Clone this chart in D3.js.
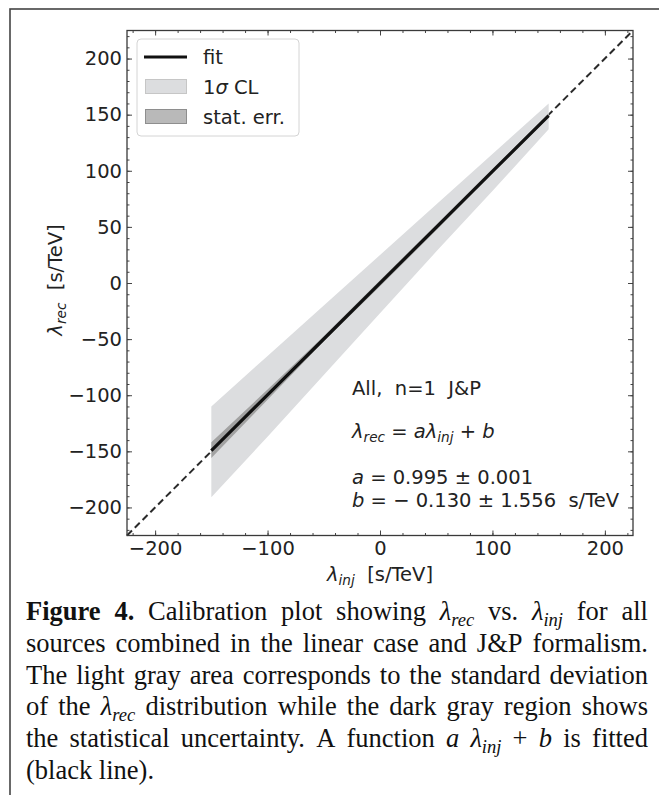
<!DOCTYPE html>
<html>
<head>
<meta charset="utf-8">
<script src="https://cdn.jsdelivr.net/npm/d3@7"></script>
<style>
  body { margin: 0; background: #fff; }
  svg { display: block; }
  text { white-space: pre; }
</style>
</head>
<body>
<svg id="chart" width="659" height="795"></svg>
<script>
// values
const bandX = [-150, -100, -50, 0, 50, 100, 150];
const fitY = [-149.4, -99.6, -49.9, -0.1, 49.6, 99.4, 149.1];
const clUpper = [-110, -65, -20, 25, 70, 115, 160];
const clLower = [-191, -137, -82, -27, 28, 82, 137];
const statUpper = [-142, -95, -47.5, 2.5, 52, 101.5, 151];
const statLower = [-156, -104, -52, -3, 47, 97.5, 147.5];
const diagonal = [-225, 225];
const xTicks = [-200, -100, 0, 100, 200];
const yTicks = [-200, -150, -100, -50, 0, 50, 100, 150, 200];

const svg = d3.select("#chart");
const sans = "DejaVu Sans";
const serif = "Liberation Serif";
const fs = 19.5;

// outer frame
svg.append("rect")
  .attr("x", 10).attr("y", 9)
  .attr("width", 700).attr("height", 820)
  .attr("fill", "none").attr("stroke", "#444").attr("stroke-width", 1.6);

const pLeft = 127, pRight = 633, pTop = 30.5, pBottom = 535.5;
const x = d3.scaleLinear().domain([-225, 225]).range([pLeft, pRight]);
const y = d3.scaleLinear().domain([-225, 225]).range([pBottom, pTop]);

const g = svg.append("g");

// dashed identity line
g.append("line")
  .attr("x1", x(diagonal[0])).attr("y1", y(diagonal[0]))
  .attr("x2", x(diagonal[1])).attr("y2", y(diagonal[1]))
  .attr("stroke", "#2a2a2a").attr("stroke-width", 2)
  .attr("stroke-dasharray", "7,4");

const pts = bandX.map((v, i) => ({
  x: v, fit: fitY[i], clU: clUpper[i], clL: clLower[i], sU: statUpper[i], sL: statLower[i]
}));

const area = (lo, hi) => d3.area()
  .x(d => x(d.x)).y0(d => y(d[lo])).y1(d => y(d[hi]));

g.append("path").attr("d", area("clL", "clU")(pts))
  .attr("fill", "#dcdddf");
g.append("path").attr("d", area("sL", "sU")(pts))
  .attr("fill", "#a2a2a2");
g.append("path")
  .attr("d", d3.line().x(d => x(d.x)).y(d => y(d.fit))(pts))
  .attr("fill", "none").attr("stroke", "#111").attr("stroke-width", 3.2);

// axes with inward ticks on all sides
const fmt = d => d < 0 ? "\u2212" + Math.abs(d) : String(d);
const xMinor = d3.range(-220, 221, 20);
const yMinor = d3.range(-220, 221, 10);

function styleAxis(sel) {
  sel.select(".domain").remove();
  sel.selectAll("line").attr("stroke", "#444").attr("stroke-width", 1);
  sel.selectAll("text").attr("font-family", sans).attr("font-size", fs).attr("fill", "#222");
}

const axes = [
  [d3.axisBottom(x), `translate(0,${pBottom})`, xTicks, xMinor, 5.5],
  [d3.axisTop(x), `translate(0,${pTop})`, xTicks, xMinor, null],
  [d3.axisLeft(y), `translate(${pLeft},0)`, yTicks, yMinor, 5],
  [d3.axisRight(y), `translate(${pRight},0)`, yTicks, yMinor, null]
];
axes.forEach(([ax, tr, major, minor, pad]) => {
  g.append("g").attr("transform", tr)
    .call(ax.tickValues(minor).tickSize(-2.5).tickFormat(""))
    .call(styleAxis);
  g.append("g").attr("transform", tr)
    .call(ax.tickValues(major).tickSize(-5).tickPadding(pad || 0)
      .tickFormat(pad ? fmt : ""))
    .call(styleAxis);
});

g.append("rect")
  .attr("x", pLeft).attr("y", pTop)
  .attr("width", pRight - pLeft).attr("height", pBottom - pTop)
  .attr("fill", "none").attr("stroke", "#3a3a3a").attr("stroke-width", 1.3);

// rich text helper: runs of [text, flags]  (i = italic, b = bold, s = subscript)
function rich(sel, runs, size) {
  let down = false;
  runs.forEach(([t, f = ""]) => {
    const ts = sel.append("tspan").text(t);
    if (f.includes("i")) ts.attr("font-style", "italic");
    if (f.includes("b")) ts.attr("font-weight", "bold");
    if (f.includes("s")) {
      ts.attr("font-size", size * 0.7);
      if (!down) { ts.attr("dy", size * 0.22); down = true; }
    } else if (down) {
      ts.attr("dy", -size * 0.22); down = false;
    }
  });
  return sel;
}

// axis labels
rich(svg.append("text")
  .attr("transform", "translate(62,280) rotate(-90)")
  .attr("text-anchor", "middle")
  .attr("font-family", sans).attr("font-size", fs).attr("fill", "#222"),
  [["\u03bb", "i"], ["rec", "is"], ["  [s/TeV]"]], fs);

rich(svg.append("text")
  .attr("x", 380).attr("y", 581)
  .attr("text-anchor", "middle")
  .attr("font-family", sans).attr("font-size", fs).attr("fill", "#222"),
  [["\u03bb", "i"], ["inj", "is"], ["  [s/TeV]"]], fs);

// annotation
const annot = [
  [395, [["All,  n=1  J&P"]]],
  [438, [["\u03bb", "i"], ["rec", "is"], [" = "], ["a\u03bb", "i"], ["inj", "is"], [" + "], ["b", "i"]]],
  [484, [["a", "i"], [" = 0.995 \u00b1 0.001"]]],
  [507, [["b", "i"], [" = \u2212 0.130 \u00b1 1.556  s/TeV"]]]
];
annot.forEach(([yy, runs]) => {
  rich(svg.append("text").attr("x", 352).attr("y", yy)
    .attr("font-family", sans).attr("font-size", fs).attr("fill", "#222"), runs, fs);
});

// legend
const leg = svg.append("g");
leg.append("rect")
  .attr("x", 137).attr("y", 39).attr("width", 162).attr("height", 97).attr("rx", 4)
  .attr("fill", "#fff").attr("stroke", "#d4d4d4").attr("stroke-width", 1);
leg.append("line")
  .attr("x1", 144).attr("x2", 187).attr("y1", 57).attr("y2", 57)
  .attr("stroke", "#111").attr("stroke-width", 3);
leg.append("rect").attr("x", 145.5).attr("y", 79.5).attr("width", 41).attr("height", 14)
  .attr("fill", "#dcdddf").attr("stroke", "#c6c6c6");
leg.append("rect").attr("x", 145.5).attr("y", 109.5).attr("width", 41).attr("height", 14)
  .attr("fill", "#b9b9b9").attr("stroke", "#8e8e8e");
[[64, [["fit"]]], [94, [["1"], ["\u03c3", "i"], [" CL"]]], [124, [["stat. err."]]]]
  .forEach(([yy, runs]) => {
    rich(leg.append("text").attr("x", 203).attr("y", yy)
      .attr("font-family", sans).attr("font-size", fs).attr("fill", "#222"), runs, fs);
  });

// caption, justified between capX0 and capX1
const captionLines = [
  "{b:Figure} {b:4.} Calibration plot showing {i:\u03bb}{is:rec} vs. {i:\u03bb}{is:inj} for all",
  "sources combined in the linear case and J&P formalism.",
  "The light gray area corresponds to the standard deviation",
  "of the {i:\u03bb}{is:rec} distribution while the dark gray region shows",
  "the statistical uncertainty. A function {i:a} {i:\u03bb}{is:inj} + {i:b} is fitted",
  "(black line)."
];
const capSize = 26.5, capX0 = 26, capX1 = 648, capY0 = 620, capStep = 31.8;
const cap = svg.append("g").attr("font-family", serif).attr("font-size", capSize).attr("fill", "#111");

captionLines.forEach((line, li) => {
  const words = line.split(" ").map(w => {
    const runs = [];
    w.replace(/\{(\w+):([^}]*)\}|([^{]+)/g, (m, f, t, plain) => {
      runs.push(plain ? [plain] : [t, f]);
    });
    return runs;
  });
  const nodes = words.map(runs =>
    rich(cap.append("text").attr("y", capY0 + li * capStep), runs, capSize));
  const widths = nodes.map(n => n.node().getComputedTextLength());
  const total = d3.sum(widths);
  const last = li === captionLines.length - 1;
  const gap = last ? capSize * 0.25 : (capX1 - capX0 - total) / (words.length - 1);
  let cx = capX0;
  nodes.forEach((n, i) => { n.attr("x", cx); cx += widths[i] + gap; });
});
</script>
</body>
</html>
